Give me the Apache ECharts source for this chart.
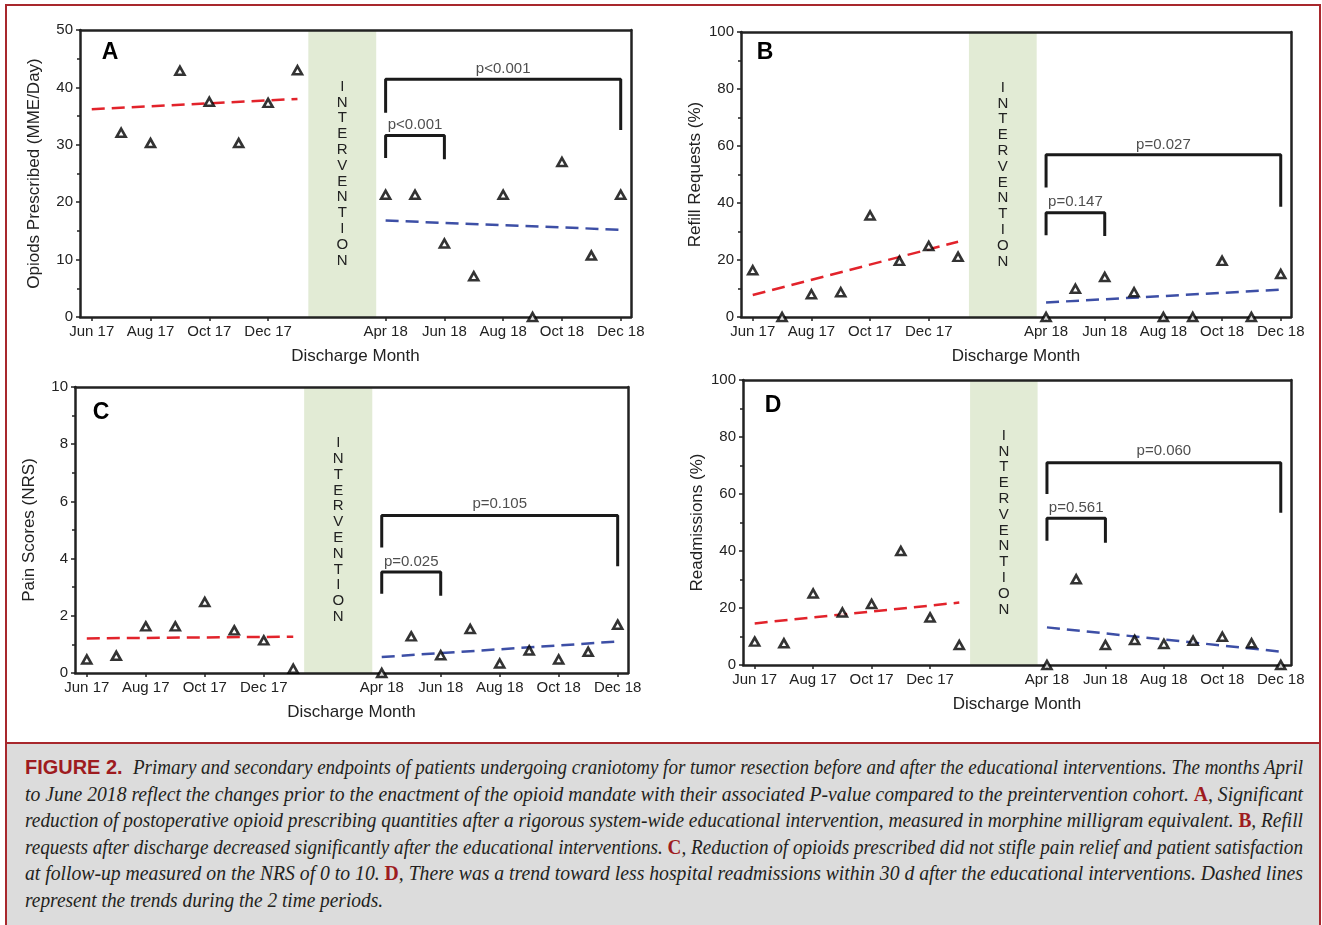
<!DOCTYPE html>
<html>
<head>
<meta charset="utf-8">
<script src="https://cdn.jsdelivr.net/npm/echarts@6/dist/echarts.min.js"></script>
<style>
html, body { margin: 0; padding: 0; background: #fff; }
#wrap { position: relative; width: 1322px; height: 925px; overflow: hidden; }
#chart { position: absolute; left: 0; top: 0; width: 1322px; height: 745px; }
#caption { position: absolute; left: 7px; top: 742px; width: 1312px; height: 190px; background: #dcdcdc; border-top: 2px solid #a8282d; }
#frame { position: absolute; left: 5px; top: 4px; width: 1316px; height: 940px; border: 2px solid #a8282d; box-sizing: border-box; pointer-events: none; }
.line { position: absolute; left: 18px; white-space: nowrap; transform-origin: 0 50%; font: italic 20px 'Liberation Serif', serif; line-height: 26px; color: #231f20; }
.fig { font: bold 21px 'Liberation Sans Narrow', 'Liberation Sans', sans-serif; color: #9e1b20; margin-right: 6px; }
.red { font-style: normal; font-weight: bold; color: #9e1b20; }
</style>
</head>
<body>
<div id="wrap">
  <div id="chart"></div>
  <div id="caption">
    <div class="line"><span class="fig">FIGURE 2.</span> Primary and secondary endpoints of patients undergoing craniotomy for tumor resection before and after the educational interventions. The months April</div>
    <div class="line">to June 2018 reflect the changes prior to the enactment of the opioid mandate with their associated P-value compared to the preintervention cohort. <span class="red">A</span>, Significant</div>
    <div class="line">reduction of postoperative opioid prescribing quantities after a rigorous system-wide educational intervention, measured in morphine milligram equivalent. <span class="red">B</span>, Refill</div>
    <div class="line">requests after discharge decreased significantly after the educational interventions. <span class="red">C</span>, Reduction of opioids prescribed did not stifle pain relief and patient satisfaction</div>
    <div class="line">at follow-up measured on the NRS of 0 to 10. <span class="red">D</span>, There was a trend toward less hospital readmissions within 30 d after the educational interventions. Dashed lines</div>
    <div class="line">represent the trends during the 2 time periods.</div>
  </div>
  <div id="frame"></div>
</div>
<script>
var monthLabels = ['Jun 17', 'Jul 17', 'Aug 17', 'Sep 17', 'Oct 17', 'Nov 17', 'Dec 17', 'Jan 18', 'Feb 18',
  'Mar 18', 'Apr 18', 'May 18', 'Jun 18', 'Jul 18', 'Aug 18', 'Sep 18', 'Oct 18', 'Nov 18', 'Dec 18']
var tickMonths = [0, 2, 4, 6, 10, 12, 14, 16, 18]
var preMonths = [0, 1, 2, 3, 4, 5, 6, 7]
var postMonths = [10, 11, 12, 13, 14, 15, 16, 17, 18]
var interventionSpan = [7.37, 9.68]

// A - opioids prescribed
var opioidsPre = [null, 32.1, 30.3, 42.9, 37.5, 30.3, 37.3, 43.0]
var opioidsPost = [21.3, 21.3, 12.8, 7.1, 21.3, 0, 27.0, 10.7, 21.3]
var opioidsTrendPre = [36.2, 38.0]
var opioidsTrendPost = [16.8, 15.2]
// [from, to, top, left end, right end, text, text y]
var opioidsBrackets = [
  [10, 12, 31.6, 27.7, 27.5, 'p<0.001', 33.4],
  [10, 18, 41.4, 35.6, 32.6, 'p<0.001', 43.3]
]

// B - refill requests
var refillPre = [16.4, 0, 8.0, 8.7, 35.6, 19.7, 24.9, 21.1]
var refillPost = [0, 9.9, 14.0, 8.7, 0, 0, 19.7, 0, 15.1]
var refillTrendPre = [7.7, 26.4]
var refillTrendPost = [5.1, 9.6]
var refillBrackets = [
  [10, 12, 36.6, 28.7, 28.4, 'p=0.147', 40.3],
  [10, 18, 56.9, 45.4, 38.7, 'p=0.027', 60.3]
]

// C - pain scores
var painPre = [0.47, 0.6, 1.63, 1.63, 2.48, 1.49, 1.14, 0.15]
var painPost = [0, 1.28, 0.62, 1.54, 0.33, 0.79, 0.47, 0.74, 1.69]
var painTrendPre = [1.21, 1.27]
var painTrendPost = [0.56, 1.1]
var painBrackets = [
  [10, 12, 3.53, 2.77, 2.70, 'p=0.025', 3.9],
  [10, 18, 5.51, 4.39, 3.73, 'p=0.105', 5.9]
]

// D - readmissions
var readmitPre = [8.2, 7.6, 25.1, 18.4, 21.4, 40.0, 16.7, 7.0]
var readmitPost = [0, 30.1, 7.0, 8.8, 7.4, 8.5, 9.9, 7.6, 0]
var readmitTrendPre = [14.6, 21.9]
var readmitTrendPost = [13.2, 4.7]
var readmitBrackets = [
  [10, 12, 51.5, 43.6, 42.9, 'p=0.561', 55.3],
  [10, 18, 71.0, 60.0, 53.4, 'p=0.060', 75.2]
]

var panels = [
  { letter: 'A', yName: 'Opiods Prescribed (MME/Day)', max: 50, step: 10, pre: opioidsPre, post: opioidsPost,
    trendPre: opioidsTrendPre, trendPost: opioidsTrendPost, brackets: opioidsBrackets,
    grid: { left: 80, top: 30, width: 551, height: 287 }, letterAt: [110, 53] },
  { letter: 'B', yName: 'Refill Requests (%)', max: 100, step: 20, pre: refillPre, post: refillPost,
    trendPre: refillTrendPre, trendPost: refillTrendPost, brackets: refillBrackets,
    grid: { left: 741, top: 32, width: 550, height: 285 }, letterAt: [765, 53] },
  { letter: 'C', yName: 'Pain Scores (NRS)', max: 10, step: 2, pre: painPre, post: painPost,
    trendPre: painTrendPre, trendPost: painTrendPost, brackets: painBrackets,
    grid: { left: 75, top: 387, width: 553, height: 286 }, letterAt: [101, 413] },
  { letter: 'D', yName: 'Readmissions (%)', max: 100, step: 20, pre: readmitPre, post: readmitPost,
    trendPre: readmitTrendPre, trendPost: readmitTrendPost, brackets: readmitBrackets,
    grid: { left: 743, top: 380, width: 548, height: 285 }, letterAt: [773, 406] }
]

var font = 'Arial, "Liberation Sans", sans-serif'
var ink = '#222'
var xMin = -0.4
var xMax = 18.35

var grids = []
var xAxes = []
var yAxes = []
var series = []
var graphics = []

panels.forEach(function(p, i) {
  grids.push(p.grid)
  xAxes.push({
    type: 'value', gridIndex: i, min: xMin, max: xMax, z: 3,
    name: 'Discharge Month', nameLocation: 'middle', nameGap: 31,
    nameTextStyle: { fontSize: 17, color: ink, fontFamily: font },
    axisLine: { show: true, onZero: false, lineStyle: { color: ink, width: 2.5 } },
    axisTick: { show: true, customValues: tickMonths, length: 4, lineStyle: { color: ink, width: 1.5 } },
    axisLabel: {
      customValues: tickMonths, margin: 7, fontSize: 15, color: ink, fontFamily: font,
      formatter: function(v) { return monthLabels[Math.round(v)] }
    },
    splitLine: { show: false }
  })
  xAxes.push({
    type: 'value', gridIndex: i, position: 'top', min: xMin, max: xMax, z: 3,
    axisLine: { show: true, onZero: false, lineStyle: { color: ink, width: 2.5 } },
    axisTick: { show: false }, axisLabel: { show: false }, splitLine: { show: false }
  })
  yAxes.push({
    type: 'value', gridIndex: i, min: 0, max: p.max, interval: p.step, z: 3,
    name: p.yName, nameLocation: 'middle', nameGap: 37,
    nameTextStyle: { fontSize: 17, color: ink, fontFamily: font },
    axisLine: { show: true, onZero: false, lineStyle: { color: ink, width: 2.5 } },
    axisTick: { show: true, length: 4, lineStyle: { color: ink, width: 1.5 } },
    minorTick: { show: true, splitNumber: 2, length: 3, lineStyle: { color: ink, width: 1.5 } },
    axisLabel: { margin: 7, fontSize: 15, color: ink, fontFamily: font },
    splitLine: { show: false }
  })
  yAxes.push({
    type: 'value', gridIndex: i, position: 'right', min: 0, max: p.max, interval: p.step, z: 3,
    axisLine: { show: true, onZero: false, lineStyle: { color: ink, width: 2.5 } },
    axisTick: { show: false }, axisLabel: { show: false }, splitLine: { show: false }
  })

  var xi = 2 * i
  var yi = 2 * i

  // intervention band
  series.push({
    type: 'line', xAxisIndex: xi, yAxisIndex: yi, data: [], z: 1, silent: true,
    markArea: {
      silent: true,
      itemStyle: { color: '#e2ebd5' },
      label: {
        show: true, position: 'inside', fontSize: 15, lineHeight: 15.8, color: ink, fontFamily: font,
        formatter: function() { return 'INTERVENTION'.split('').join('\n') }
      },
      data: [[{ xAxis: interventionSpan[0] }, { xAxis: interventionSpan[1] }]]
    }
  })

  // trend lines
  series.push({
    type: 'line', xAxisIndex: xi, yAxisIndex: yi, symbol: 'none', z: 4,
    data: [[preMonths[0], p.trendPre[0]], [preMonths[preMonths.length - 1], p.trendPre[1]]],
    lineStyle: { color: '#e2232b', width: 2.5, type: [13, 7] }
  })
  series.push({
    type: 'line', xAxisIndex: xi, yAxisIndex: yi, symbol: 'none', z: 4,
    data: [[postMonths[0], p.trendPost[0]], [postMonths[postMonths.length - 1], p.trendPost[1]]],
    lineStyle: { color: '#3d4fa6', width: 2.5, type: [13, 7] }
  })

  // brackets and p-values
  p.brackets.forEach(function(b) {
    series.push({
      type: 'line', xAxisIndex: xi, yAxisIndex: yi, symbol: 'none', z: 4,
      data: [[b[0], b[3]], [b[0], b[2]], [b[1], b[2]], [b[1], b[4]]],
      lineStyle: { color: '#1a1a1a', width: 3 }
    })
    series.push({
      type: 'scatter', xAxisIndex: xi, yAxisIndex: yi, symbolSize: 1, z: 4,
      itemStyle: { color: 'transparent' },
      data: [[(b[0] + b[1]) / 2, b[6], b[5]]],
      label: {
        show: true, position: 'inside', fontSize: 15, color: ink, fontFamily: font,
        formatter: function(d) { return d.value[2] }
      }
    })
  })

  // data points
  var pts = []
  p.pre.forEach(function(v, k) { if (v !== null) pts.push([preMonths[k], v]) })
  p.post.forEach(function(v, k) { pts.push([postMonths[k], v]) })
  series.push({
    type: 'scatter', xAxisIndex: xi, yAxisIndex: yi, z: 5,
    symbol: 'triangle', symbolSize: [9, 8], data: pts,
    itemStyle: { color: '#fff', borderColor: '#000', borderWidth: 2.6 }
  })

  graphics.push({
    type: 'text', x: p.letterAt[0], y: p.letterAt[1],
    style: { text: p.letter, font: 'bold 23px ' + font, fill: '#000', align: 'center', verticalAlign: 'middle' }
  })
})

var chart = echarts.init(document.getElementById('chart'))
chart.setOption({
  animation: false,
  backgroundColor: '#fff',
  grid: grids,
  xAxis: xAxes,
  yAxis: yAxes,
  series: series,
  graphic: graphics
})

// caption: fit each line to the column width like justified print text
function layoutCaption() {
  var lines = document.querySelectorAll('#caption .line')
  lines.forEach(function(el, i) {
    el.style.top = (10 + i * 26.6) + 'px'
    var target = i === lines.length - 1 ? 358 : 1278
    var w = el.getBoundingClientRect().width
    var spaces = (el.textContent.match(/ /g) || []).length
    if (w < target && i !== lines.length - 1) {
      el.style.wordSpacing = ((target - w) / spaces) + 'px'
    } else {
      el.style.transform = 'scaleX(' + (target / w) + ')'
    }
  })
}
if (document.fonts && document.fonts.ready) {
  document.fonts.ready.then(layoutCaption)
} else {
  layoutCaption()
}
</script>
</body>
</html>
